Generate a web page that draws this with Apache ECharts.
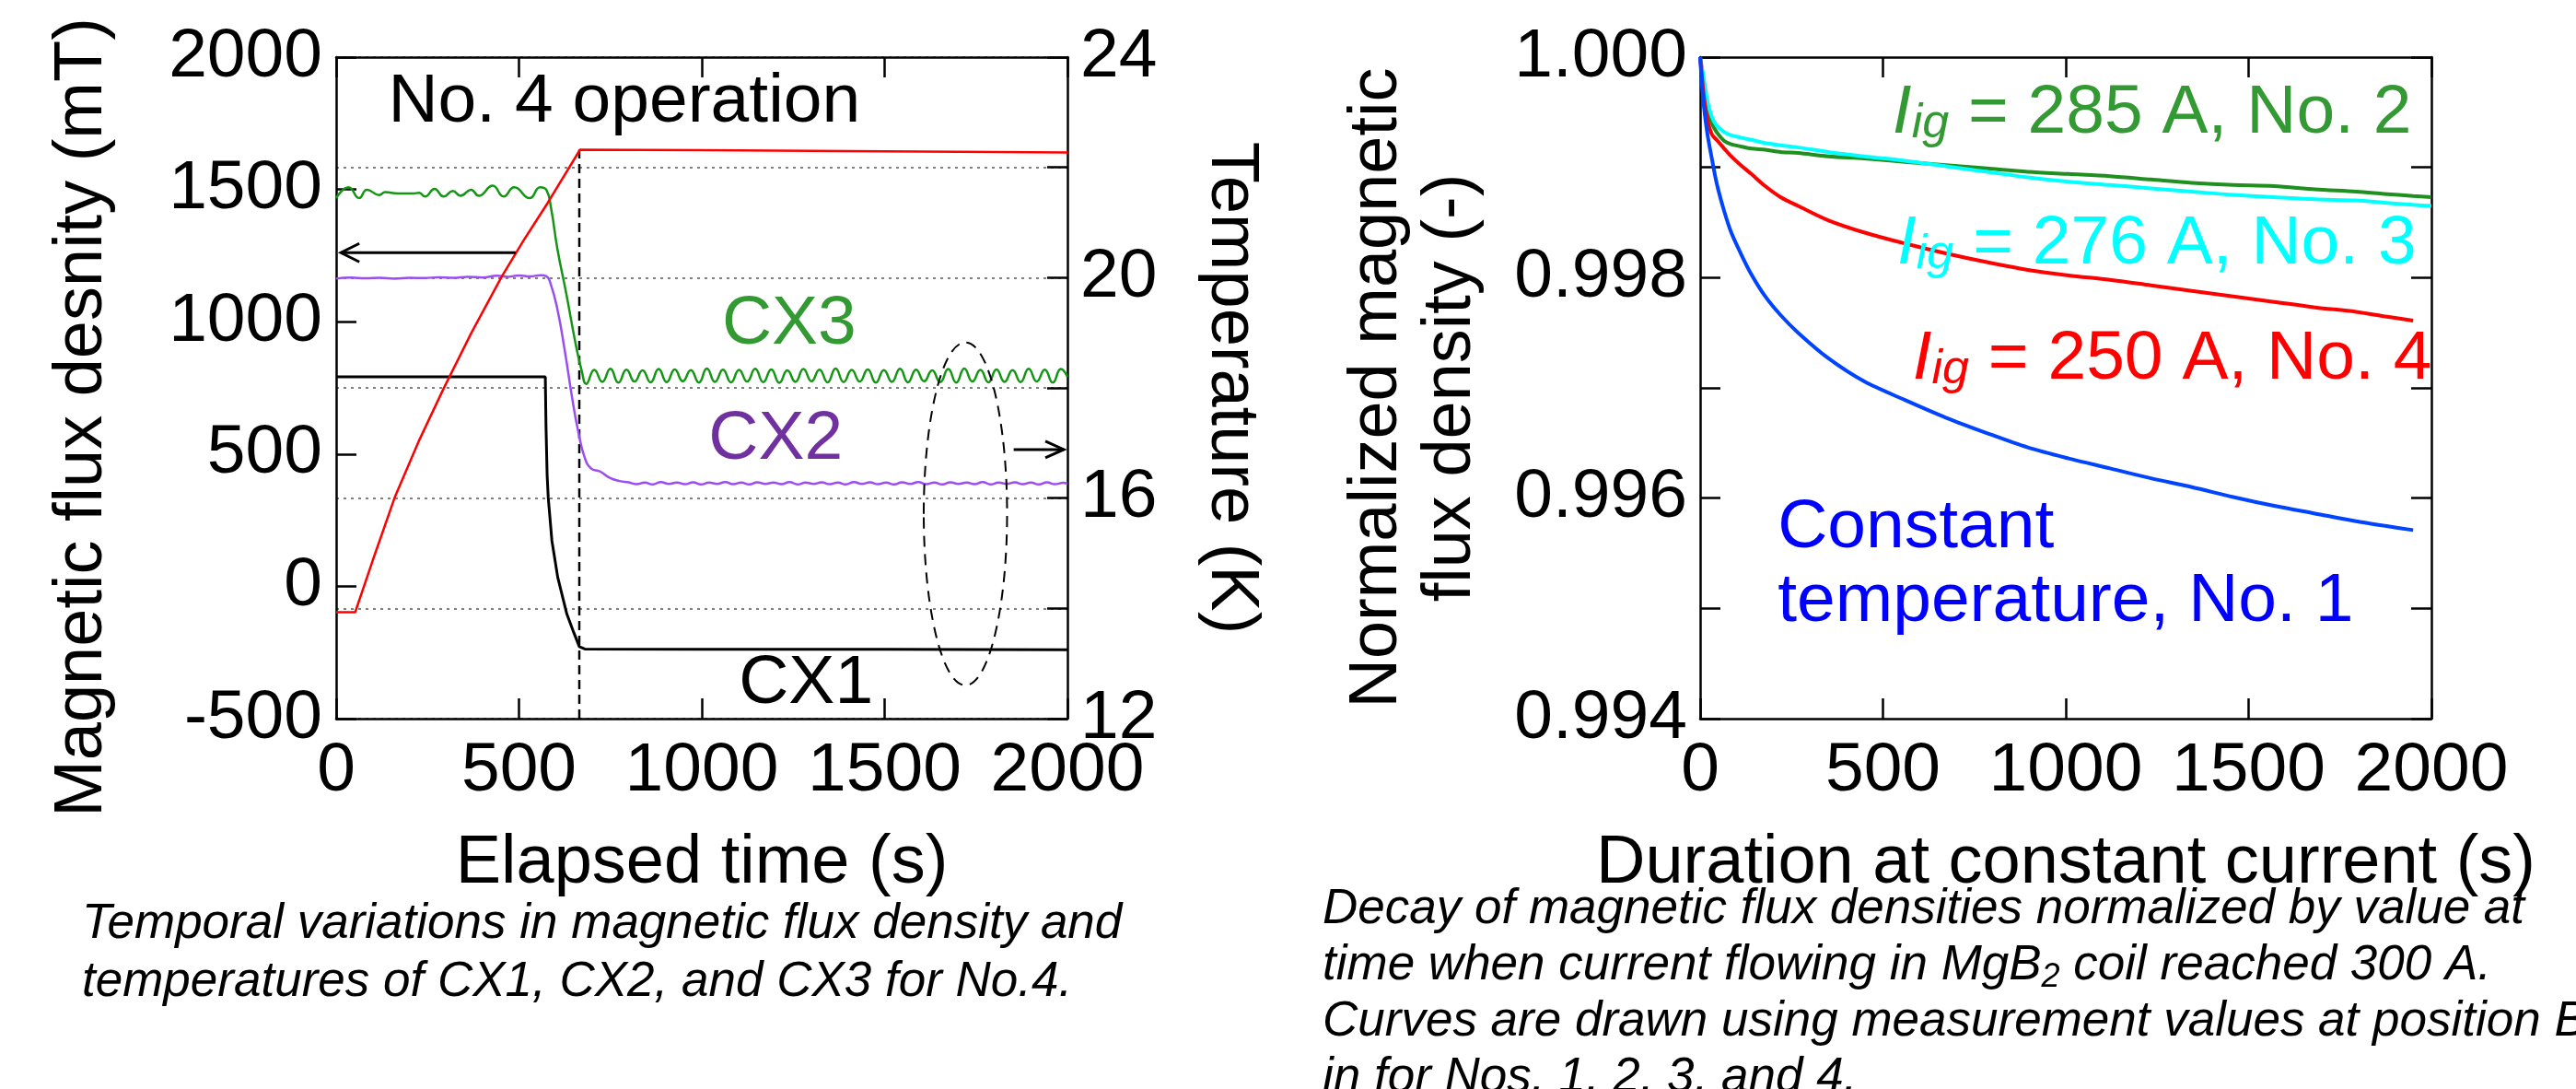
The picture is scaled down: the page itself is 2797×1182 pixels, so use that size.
<!DOCTYPE html>
<html lang="en">
<head>
<meta charset="UTF-8">
<title>Magnetic flux density - No. 4 operation and decay</title>
<script src="https://cdn.jsdelivr.net/npm/echarts@6/dist/echarts.min.js"></script>
<style>
    html, body { margin: 0; padding: 0; background: #fff; }
    #main { width: 2797px; height: 1182px; }
</style>
</head>
<body>
<div id="main"></div>

<script type="text/javascript">

    // ---------- left panel : No. 4 operation ----------
    // temperature (K), right axis
    var tempTime  = [0, 52, 100, 160, 225, 294, 370, 453, 515, 579, 667, 1000, 1500, 2000];
    var tempValue = [13.93, 13.93, 14.87, 16.01, 17.02, 17.99, 19.0, 20.02, 20.7, 21.36, 22.32, 22.31, 22.29, 22.27];

    // CX1 (mT)
    var cx1Time  = [0, 572, 574, 577, 580, 590, 606, 631, 650, 665, 680, 1000, 1500, 2000];
    var cx1Value = [792, 792, 600, 420, 336, 173, 34, -105, -175, -228, -237, -238, -238, -240];

    // CX2 (mT)
    var cx2Time  = [0, 40, 80, 120, 160, 200, 240, 280, 320, 360, 400, 440, 470, 500, 530, 560, 575,
                    585, 604, 625, 646, 663, 680, 697, 722, 747, 775];
    var cx2Value = [1163, 1167, 1164, 1166, 1163, 1166, 1165, 1168, 1166, 1170, 1167, 1174, 1170, 1175, 1171, 1176, 1172,
                    1150, 1055, 893, 707, 579, 486, 446, 434, 411, 398];
    var cx2TailTime  = [800, 822, 844, 866, 888, 910, 932, 954, 976, 998, 1020, 1042, 1064, 1086, 1108, 1130, 1152, 1174,
                        1196, 1218, 1240, 1262, 1284, 1306, 1328, 1350, 1372, 1394, 1416, 1438, 1460, 1482, 1504, 1526,
                        1548, 1570, 1592, 1614, 1636, 1658, 1680, 1702, 1724, 1746, 1768, 1790, 1812, 1834, 1856, 1878,
                        1900, 1922, 1944, 1966, 1988, 2000];
    var cx2TailValue = [393, 386, 392, 385, 394, 387, 392, 386, 393, 385,
                        392, 387, 394, 386, 392, 385, 393, 387, 392, 386,
                        394, 385, 392, 387, 393, 386, 392, 385, 394, 387,
                        393, 386, 392, 385, 393, 387, 394, 386, 392, 385,
                        393, 387, 392, 386, 394, 385, 392, 387, 393, 386,
                        392, 385, 393, 386, 391, 388];

    // CX3 (mT)
    var cx3Time  = [0, 34, 63, 84, 118, 134, 168, 210, 227, 243, 269, 294, 319, 340, 369, 390, 428, 458, 487, 529, 558, 575,
                    588, 605, 630, 655, 672, 684];
    var cx3Value = [1467, 1508, 1467, 1499, 1479, 1490, 1485, 1485, 1487, 1473, 1502, 1473, 1494, 1476, 1499, 1476, 1514, 1473, 1508, 1467, 1508, 1498,
                    1427, 1276, 1102, 916, 812, 765];
    var cx3TailTime  = [706, 728, 750, 772, 794, 816, 838, 860, 882, 904,
                        926, 948, 970, 992, 1014, 1036, 1058, 1080, 1102, 1124,
                        1146, 1168, 1190, 1212, 1234, 1256, 1278, 1300, 1322, 1344,
                        1366, 1388, 1410, 1432, 1454, 1476, 1498, 1520, 1542, 1564,
                        1586, 1608, 1630, 1652, 1674, 1696, 1718, 1740, 1762, 1784,
                        1806, 1828, 1850, 1872, 1894, 1916, 1938, 1960, 1982, 2000];
    var cx3TailValue = [818, 773, 822, 770, 819, 774, 816, 771, 821, 772,
                        820, 775, 817, 770, 823, 773, 819, 771, 818, 774,
                        822, 772, 820, 769, 816, 773, 821, 775, 819, 771,
                        823, 772, 818, 774, 820, 770, 817, 773, 822, 771,
                        819, 775, 816, 772, 821, 770, 823, 774, 818, 771,
                        820, 773, 817, 772, 822, 774, 819, 770, 821, 792];

    // vertical dashed marker (time s / temperature K)
    var markerTime = [665, 665];
    var markerTemp = [12, 22.32];

    // ---------- right panel : normalized decay ----------
    var decayTime = [0, 5, 10, 20, 32, 45, 66, 85, 111, 140, 178, 220, 268, 350, 448, 560, 672, 784, 896, 1008,
                     1121, 1233, 1345, 1458, 1570, 1682, 1794, 1870, 1950, 2000];
    var decayNo2  = [1.0, 0.99988, 0.99978, 0.99955, 0.99940, 0.99932, 0.99924, 0.99921, 0.99919, 0.99917,
                     0.99916, 0.99914, 0.99913, 0.99910, 0.99908, 0.99905, 0.99902, 0.99899, 0.99896, 0.99894,
                     0.99892, 0.99889, 0.99886, 0.99884, 0.99883, 0.99880, 0.99878, 0.99876, 0.99874, 0.99873];
    var decayNo3  = [1.0, 0.99990, 0.99980, 0.99960, 0.99946, 0.99938, 0.99932, 0.99929, 0.99927, 0.99925,
                     0.99922, 0.99920, 0.99918, 0.99914, 0.99910, 0.99906, 0.99901, 0.99896, 0.99891, 0.99887,
                     0.99884, 0.99881, 0.99878, 0.99875, 0.99873, 0.99871, 0.99870, 0.99868, 0.99866, 0.99865];
    var decayNo4  = [1.0, 0.99982, 0.99965, 0.99943, 0.99930, 0.99925, 0.99917, 0.99910, 0.99902, 0.99894,
                     0.99883, 0.99873, 0.99865, 0.99852, 0.99841, 0.99831, 0.99822, 0.99814, 0.99807, 0.99802,
                     0.99798, 0.99793, 0.99788, 0.99783, 0.99778, 0.99773, 0.99769, 0.99765, 0.99761, null];
    var decayNo1  = [1.0, 0.99975, 0.99956, 0.99930, 0.99908, 0.99886, 0.99860, 0.99841, 0.99822, 0.99803,
                     0.99783, 0.99766, 0.99750, 0.99727, 0.99706, 0.99689, 0.99673, 0.99659, 0.99646, 0.99636,
                     0.99627, 0.99618, 0.99610, 0.99601, 0.99593, 0.99586, 0.99579, 0.99575, 0.99571, null];

    var xTicks = [0, 500, 1000, 1500, 2000];

    var FONT = "'Liberation Sans', Arial, Helvetica, sans-serif";

    function pairs(xs, ys) {
        return xs.map(function (x, i) { return [x, ys[i]]; });
    }

    var frameLine = { onZero: false, lineStyle: { color: '#000', width: 2.5 } };
    var frameTick = { inside: true, length: 22, lineStyle: { color: '#000', width: 2.5 } };
    var tickFont = { fontFamily: FONT, fontSize: 75, color: '#000' };
    var nameFont = { fontFamily: FONT, fontSize: 74, color: '#000' };

    function xAxisCfg(grid, pos, name) {
        return {
            type: 'value', gridIndex: grid, position: pos,
            min: xTicks[0], max: xTicks[xTicks.length - 1], interval: 500,
            axisLine: frameLine, axisTick: frameTick,
            axisLabel: pos === 'bottom'
                ? Object.assign({ margin: 20, formatter: function (v) { return String(v); } }, tickFont)
                : { show: false },
            splitLine: { show: false },
            name: name || '', nameLocation: 'middle', nameGap: 121, nameMoveOverlap: false,
            nameTextStyle: nameFont
        };
    }

    function leftNotes(params, api) {
        var c = api.coord([1721, 274]);
        var s = api.size([114, 648]);
        var la = api.coord([491, 1261]), lb = api.coord([13, 1261]);
        var ra = api.coord([1853, 517]), rb = api.coord([1990, 517]);
        var pen = { stroke: '#000', lineWidth: 3, fill: null };
        function txt(pos, str, color) {
            return { type: 'text', x: pos[0], y: pos[1],
                style: { text: str, fill: color, fontFamily: FONT, fontSize: 75, align: 'center', verticalAlign: 'middle' } };
        }
        return {
            type: 'group',
            children: [
                { type: 'ellipse', shape: { cx: c[0], cy: c[1], rx: s[0], ry: s[1] },
                  style: { fill: 'none', stroke: '#000', lineWidth: 2, lineDash: [12, 8] } },
                { type: 'polyline', shape: { points: [la, lb] }, style: pen },
                { type: 'polyline', shape: { points: [[lb[0] + 20, lb[1] - 10], lb, [lb[0] + 20, lb[1] + 10]] }, style: pen },
                { type: 'polyline', shape: { points: [ra, rb] }, style: pen },
                { type: 'polyline', shape: { points: [[rb[0] - 20, rb[1] - 9], rb, [rb[0] - 20, rb[1] + 9]] }, style: pen },
                txt(api.coord([788, 1829]), 'No. 4 operation', '#000'),
                txt(api.coord([1239, 990]), 'CX3', '#339933'),
                txt(api.coord([1202, 555]), 'CX2', '#7030a0'),
                txt(api.coord([1285, -368]), 'CX1', '#000')
            ]
        };
    }

    function igLabel(pos, rest, color) {
        return {
            type: 'text', x: pos[0], y: pos[1],
            style: {
                text: '{I|I}{s|ig}{n|' + rest + '}',
                fill: color, align: 'left', verticalAlign: 'middle',
                rich: {
                    I: { fontFamily: FONT, fontSize: 75, fontStyle: 'italic', lineHeight: 75, verticalAlign: 'top', fill: color },
                    s: { fontFamily: FONT, fontSize: 52, fontStyle: 'italic', lineHeight: 52, verticalAlign: 'bottom', padding: [38, 0, 0, 0], fill: color },
                    n: { fontFamily: FONT, fontSize: 75, lineHeight: 75, verticalAlign: 'top', fill: color }
                }
            }
        };
    }

    function rightNotes(params, api) {
        var blue = api.coord([212, 0.99539]);
        return {
            type: 'group',
            children: [
                igLabel(api.coord([526, 0.99949]), ' = 285 A, No. 2', '#339933'),
                igLabel(api.coord([539, 0.99830]), ' = 276 A, No. 3', '#00ffff'),
                igLabel(api.coord([581, 0.99726]), ' = 250 A, No. 4', '#ff0000'),
                { type: 'text', x: blue[0], y: blue[1],
                  style: { text: 'Constant\ntemperature, No. 1', fill: '#0000ff', fontFamily: FONT, fontSize: 75,
                           lineHeight: 80, align: 'left', verticalAlign: 'middle' } }
            ]
        };
    }

    function decaySeries(name, values, color) {
        return {
            name: name, type: 'line', xAxisIndex: 2, yAxisIndex: 2, smooth: 0.3,
            data: pairs(decayTime, values), showSymbol: false, z: 3,
            lineStyle: { color: color, width: 4 }
        };
    }

    var myChart = echarts.init(document.getElementById('main'), null, { renderer: 'canvas' });

    var option = {
        animation: false,
        backgroundColor: '#fff',
        textStyle: { fontFamily: FONT },
        grid: [
            { left: 365, top: 62, width: 794, height: 718, containLabel: false, outerBoundsMode: 'none' },
            { left: 1846, top: 62, width: 794, height: 718, containLabel: false, outerBoundsMode: 'none' }
        ],
        xAxis: [
            xAxisCfg(0, 'bottom', 'Elapsed time (s)'),
            xAxisCfg(0, 'top'),
            xAxisCfg(1, 'bottom', 'Duration at constant current (s)'),
            xAxisCfg(1, 'top')
        ],
        yAxis: [
            {
                type: 'value', gridIndex: 0, position: 'left', min: -500, max: 2000, interval: 500,
                axisLine: frameLine, axisTick: frameTick,
                axisLabel: Object.assign({ margin: 15, formatter: function (v) { return String(v); } }, tickFont),
                splitLine: { show: false },
                name: 'Magnetic flux desnity (mT)', nameLocation: 'middle', nameGap: 238, nameRotate: 90,
                nameMoveOverlap: false, nameTextStyle: Object.assign({ padding: [0, 64, 0, 0] }, nameFont)
            },
            {
                type: 'value', gridIndex: 0, position: 'right', min: 12, max: 24, interval: 2,
                axisLine: frameLine, axisTick: frameTick,
                axisLabel: Object.assign({ margin: 14, formatter: function (v) { return v % 4 === 0 ? String(v) : ''; } }, tickFont),
                splitLine: { show: true, lineStyle: { color: '#555', width: 1.5, type: [3, 5] } },
                name: 'Temperature (K)', nameLocation: 'middle', nameGap: 140, nameRotate: -90,
                nameMoveOverlap: false, nameTextStyle: nameFont
            },
            {
                type: 'value', gridIndex: 1, position: 'left', min: 0.994, max: 1.0, interval: 0.001,
                axisLine: frameLine, axisTick: frameTick,
                axisLabel: Object.assign({ margin: 14, formatter: function (v) {
                    var k = Math.round(v * 1000);
                    return k % 2 === 0 ? (k / 1000).toFixed(3) : '';
                } }, tickFont),
                splitLine: { show: false },
                name: 'Normalized magnetic\nflux density (-)', nameLocation: 'middle', nameGap: 230, nameRotate: 90,
                nameMoveOverlap: false, nameTextStyle: Object.assign({ lineHeight: 80 }, nameFont)
            },
            {
                type: 'value', gridIndex: 1, position: 'right', min: 0.994, max: 1.0, interval: 0.001,
                axisLine: frameLine, axisTick: frameTick,
                axisLabel: { show: false }, splitLine: { show: false }
            }
        ],
        series: [
            {
                name: 'Temperature', type: 'line', xAxisIndex: 0, yAxisIndex: 1,
                data: pairs(tempTime, tempValue), showSymbol: false, z: 4,
                lineStyle: { color: '#ff0000', width: 2.5 }
            },
            {
                name: 'CX3', type: 'line', xAxisIndex: 0, yAxisIndex: 0, smooth: 0.5,
                data: pairs(cx3Time.concat(cx3TailTime), cx3Value.concat(cx3TailValue)), showSymbol: false, z: 3,
                lineStyle: { color: '#149614', width: 2.5 }
            },
            {
                name: 'CX2', type: 'line', xAxisIndex: 0, yAxisIndex: 0, smooth: 0.5,
                data: pairs(cx2Time.concat(cx2TailTime), cx2Value.concat(cx2TailValue)), showSymbol: false, z: 3,
                lineStyle: { color: '#9a4ef0', width: 2.5 }
            },
            {
                name: 'CX1', type: 'line', xAxisIndex: 0, yAxisIndex: 0,
                data: pairs(cx1Time, cx1Value), showSymbol: false, z: 3,
                lineStyle: { color: '#000', width: 3 }
            },
            {
                name: 'marker', type: 'line', xAxisIndex: 0, yAxisIndex: 1,
                data: pairs(markerTime, markerTemp), showSymbol: false, z: 2,
                lineStyle: { color: '#000', width: 2.5, type: [10, 6] }
            },
            {
                name: 'left notes', type: 'custom', xAxisIndex: 0, yAxisIndex: 0,
                data: [[0, 0]], renderItem: leftNotes, z: 5, silent: true
            },
            decaySeries('No. 2', decayNo2, '#1f8f1f'),
            decaySeries('No. 3', decayNo3, '#00ffff'),
            decaySeries('No. 4', decayNo4, '#ff0000'),
            decaySeries('No. 1', decayNo1, '#0044ff'),
            {
                name: 'right notes', type: 'custom', xAxisIndex: 2, yAxisIndex: 2,
                data: [[0, 0.997]], renderItem: rightNotes, z: 5, silent: true
            }
        ],
        graphic: [
            {
                type: 'text', x: 89, y: 972,
                style: {
                    text: 'Temporal variations in magnetic flux density and\ntemperatures of CX1, CX2, and CX3 for No.4.',
                    fontFamily: FONT, fontSize: 53, fontStyle: 'italic', lineHeight: 63,
                    fill: '#000', align: 'left', verticalAlign: 'top'
                }
            },
            {
                type: 'text', x: 1436, y: 957,
                style: {
                    text: 'Decay of magnetic flux densities normalized by value at\n' +
                          'time when current flowing in MgB{s|2} coil reached 300 A.\n' +
                          'Curves are drawn using measurement values at position B\n' +
                          'in for Nos. 1, 2, 3, and 4.',
                    fontFamily: FONT, fontSize: 53, fontStyle: 'italic', lineHeight: 61,
                    fill: '#000', align: 'left', verticalAlign: 'top',
                    rich: {
                        s: { fontFamily: FONT, fontSize: 36, fontStyle: 'italic', lineHeight: 36,
                             verticalAlign: 'bottom', padding: [25, 0, 0, 0], fill: '#000' }
                    }
                }
            }
        ]
    };

    myChart.setOption(option);

</script>
</body>
</html>
